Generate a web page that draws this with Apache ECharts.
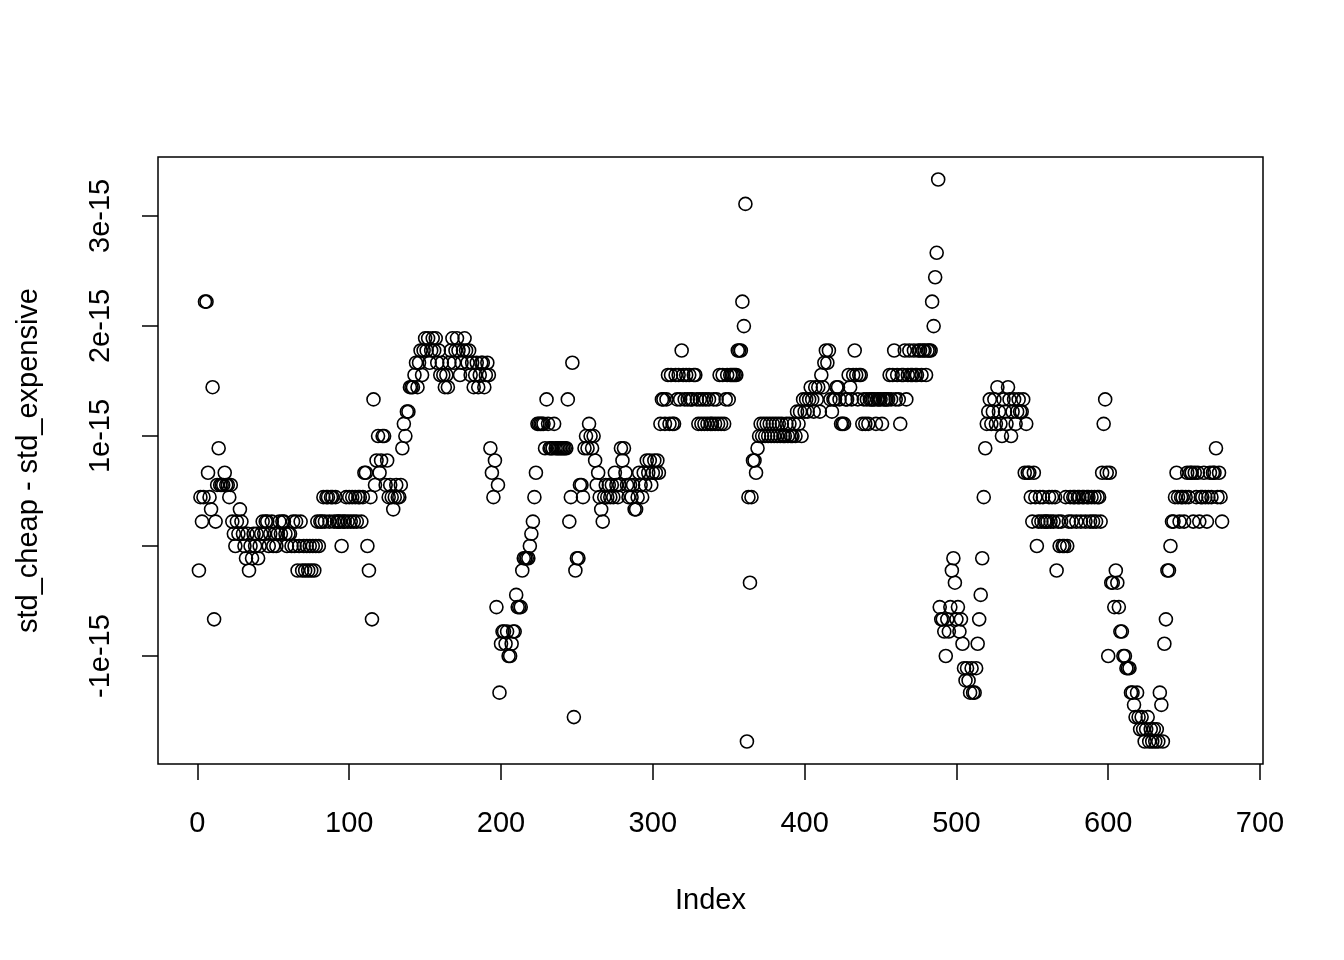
<!DOCTYPE html>
<html>
<head>
<meta charset="utf-8">
<script src="https://cdn.jsdelivr.net/npm/echarts@6/dist/echarts.min.js"></script>
<style>
html,body{margin:0;padding:0;background:#fff;}
#chart{width:1344px;height:960px;}
</style>
</head>
<body>
<div id="chart"></div>
<script>
// differences std_cheap - std_expensive, read in units of 2^-53 (one ulp below 1.0)
const diffUlps_001_060 = [-2,4,2,4,20,20,6,4,3,13, -6,2,5,8,5,5,5,6,5,5, 4,5,2,1,0,2,1,3,2,1,
  0,-1,1,-2,0,-1,1,0,1,-1, 0,1,2,1,2,2,0,1,2,0, 1,0,1,2,1,2,2,1,0,1];
const diffUlps_061_120 = [1,0,2,0,2,-2,0,2,-2,0, -2,0,-2,0,-2,0,-2,0,2,0, 2,2,4,2,4,4,2,4,4,2,
  4,2,2,2,0,2,2,4,2,4, 2,4,2,4,2,4,4,2,4,6, 6,0,-2,4,-6,12,5,7,9,6];
const diffUlps_121_190 = [7,9,9,5,7,4,5,4,3,4, 5,4,4,5,8,10,9,11,11,13, 13,13,14,15,13,15,16,14,16,17,
  16,17,15,16,17,16,17,15,16,14, 15,14,13,14,13,15,16,17,15,16, 17,16,14,15,16,17,16,15,16,14,
  15,13,14,15,13,14,15,15,13,14];
const diffUlps_191_250 = [15,14,8,6,4,7,-5,5,-12,-8, -7,-7,-8,-7,-9,-9,-8,-7,-7,-4, -5,-5,-5,-2,-1,-1,-1,-1,0,1,
  2,4,6,10,10,10,10,10,8,12, 10,8,8,8,10,8,8,8,8,8, 8,8,8,12,2,4,15,-14,-2,-1];
const diffUlps_251_310 = [-1,5,5,4,8,9,8,10,9,8, 9,7,5,6,4,3,2,4,5,4, 5,4,5,4,6,5,4,5,8,7,
  8,6,5,4,5,4,5,3,3,4, 6,5,4,6,5,7,6,7,5,6, 7,6,7,6,10,12,12,10,12,14];
const diffUlps_311_370 = [10,14,10,10,14,12,14,12,16,14, 12,14,12,14,12,12,14,14,12,10, 12,10,12,10,12,10,12,10,10,12,
  10,12,10,14,10,14,10,12,14,12, 14,14,14,14,14,16,16,16,20,18, 28,-16,4,-3,4,7,7,6,8,9];
const diffUlps_371_430 = [10,9,10,9,10,9,10,9,10,9, 10,9,10,9,10,9,9,10,9,10, 9,9,10,9,11,10,11,9,12,11,
  12,11,12,13,12,11,13,12,13,11, 14,13,15,16,15,16,12,11,12,12, 13,13,12,10,10,10,12,12,14,13];
const diffUlps_431_490 = [12,14,16,14,12,14,14,10,12,10, 12,10,12,12,12,12,10,12,12,12, 10,12,12,12,12,14,12,14,16,12,
  14,12,10,14,14,16,12,14,16,14, 14,16,14,14,16,16,14,16,16,14, 16,16,16,20,18,22,24,30,-5,-6];
const diffUlps_491_550 = [-6,-7,-9,-6,-7,-5,-2,-1,-3,-6, -5,-7,-6,-8,-10,-11,-10,-11,-12,-10, -12,-12,-10,-8,-6,-4,-1,4,8,10,
  11,12,10,11,12,10,13,11,10,9, 12,11,10,13,12,9,11,12,10,11, 12,11,11,12,6,10,6,6,4,2];
const diffUlps_551_610 = [6,4,0,2,4,2,4,2,2,2, 4,2,4,2,4,-2,2,0,2,0, 0,4,0,2,4,2,4,4,2,4,
  4,2,4,4,2,4,4,2,4,2, 4,2,4,4,2,6,10,12,6,-9, 6,-3,-3,-5,-2,-3,-5,-7,-7,-9];
const diffUlps_611_675 = [-9,-10,-10,-10,-12,-12,-13,-14,-12,-14, -15,-14,-15,-16,-15,-14,-16,-15,-16,-15,
  -16,-15,-16,-12,-13,-16,-8,-6,-2,-2, 0,2,2,4,6,4,2,4,4,2, 4,6,4,6,6,2,6,4,6,2,
  4,4,6,4,2,4,6,4,6,6, 8,4,6,4,2];

const xTickValues = [0, 100, 200, 300, 400, 500, 600, 700];
const yTickValues = [-1, 0, 1, 2, 3];          // in units of 1e-15
const yLabelValues = [-1, 1, 2, 3];             // R drops the overlapping "0"
const xTitle = 'Index';
const yTitle = 'std_cheap - std_expensive';

const ULP = Math.pow(2, -53);
const diffUlps = [].concat(diffUlps_001_060, diffUlps_061_120, diffUlps_121_190, diffUlps_191_250,
  diffUlps_251_310, diffUlps_311_370, diffUlps_371_430, diffUlps_431_490, diffUlps_491_550,
  diffUlps_551_610, diffUlps_611_675);
// plot in units of 1e-15
const points = diffUlps.map((k, i) => [i + 1, k * ULP * 1e15]);

const xs = points.map(p => p[0]), ys = points.map(p => p[1]);
const xMin0 = Math.min(...xs), xMax0 = Math.max(...xs);
const yMin0 = Math.min(...ys), yMax0 = Math.max(...ys);
const xPad = 0.04 * (xMax0 - xMin0), yPad = 0.04 * (yMax0 - yMin0);

const FONT = "'Liberation Sans', Arial, Helvetica, sans-serif";
const FS = 29;

const chart = echarts.init(document.getElementById('chart'), null, {renderer: 'canvas'});
chart.setOption({
  animation: false,
  backgroundColor: '#fff',
  textStyle: {fontFamily: FONT},
  grid: {
    left: 158, top: 157, width: 1105, height: 607,
    show: true, borderColor: '#000', borderWidth: 1.5, backgroundColor: 'transparent',
    containLabel: false, outerBoundsMode: 'none'
  },
  xAxis: {
    type: 'value',
    position: 'bottom',
    min: xMin0 - xPad, max: xMax0 + xPad,
    axisLine: {show: false, onZero: false},
    splitLine: {show: false},
    axisTick: {show: true, inside: false, length: 16, customValues: xTickValues,
      lineStyle: {color: '#000', width: 1.5}},
    axisLabel: {show: true, customValues: xTickValues, margin: 45, color: '#000',
      fontSize: FS, fontFamily: FONT},
    name: xTitle, nameLocation: 'middle', nameGap: 122,
    nameTextStyle: {color: '#000', fontSize: FS, fontFamily: FONT}
  },
  yAxis: {
    type: 'value',
    position: 'left',
    min: yMin0 - yPad, max: yMax0 + yPad,
    axisLine: {show: false, onZero: false},
    splitLine: {show: false},
    axisTick: {show: true, inside: false, length: 16, customValues: yTickValues,
      lineStyle: {color: '#000', width: 1.5}},
    axisLabel: {show: true, customValues: yLabelValues, rotate: 90, margin: 43, color: '#000',
      fontSize: FS, fontFamily: FONT,
      formatter: v => (v === 0 ? '' : v + 'e-15')},
    name: yTitle, nameLocation: 'middle', nameGap: 115, nameRotate: 90,
    nameTextStyle: {color: '#000', fontSize: FS, fontFamily: FONT}
  },
  series: [{
    type: 'scatter',
    data: points,
    symbol: 'circle',
    symbolSize: 13,
    progressive: 0,
    itemStyle: {color: 'rgba(0,0,0,0)', borderColor: '#000', borderWidth: 1.6, opacity: 1},
    emphasis: {disabled: true},
    silent: true
  }]
});
</script>
</body>
</html>
